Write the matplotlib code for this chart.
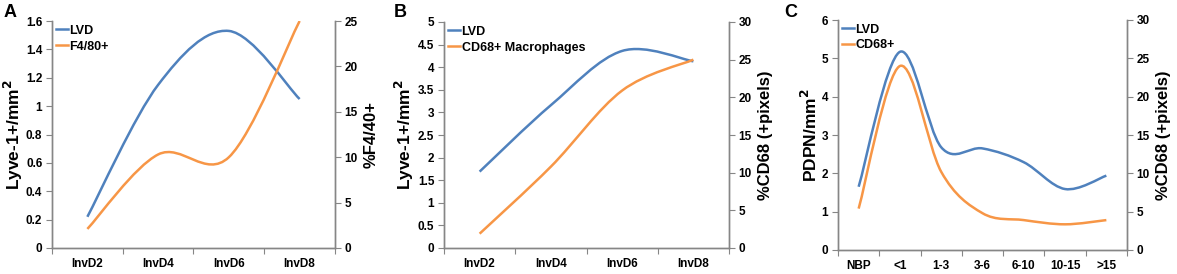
import numpy as np
import matplotlib
matplotlib.use("Agg")
from matplotlib import pyplot as plt
from matplotlib.path import Path
from matplotlib.patches import PathPatch
from matplotlib.lines import Line2D

plt.rcParams['font.family'] = ['Liberation Sans', 'DejaVu Sans']
plt.rcParams['font.weight'] = 'bold'

# panel A
cats_a = ["InvD2", "InvD4", "InvD6", "InvD8"]
lvd_a = [0.22, 1.15, 1.53, 1.05]
f480_a = [2.1, 10.3, 10.0, 25.0]

# panel B
cats_b = ["InvD2", "InvD4", "InvD6", "InvD8"]
lvd_b = [1.69, 3.16, 4.36, 4.13]
cd68_b = [1.9, 10.8, 20.9, 25.0]

# panel C
cats_c = ["NBP", "<1", "1-3", "3-6", "6-10", "10-15", ">15"]
lvd_c = [1.65, 5.17, 2.68, 2.65, 2.29, 1.59, 1.94]
cd68_c = [5.4, 24.0, 10.2, 4.8, 3.9, 3.35, 3.9]

BLUE = "#4f81bd"
ORANGE = "#f79646"
GREY = "#868686"


def smooth_path(xs, ys):
    # Excel-like smoothed line: cubic bezier segments with catmull-rom tangents
    pts = np.column_stack([xs, ys]).astype(float)
    n = len(pts)
    verts = [pts[0]]
    codes = [Path.MOVETO]
    for i in range(n - 1):
        p0 = pts[i - 1] if i > 0 else pts[i]
        p1 = pts[i]
        p2 = pts[i + 1]
        p3 = pts[i + 2] if i + 2 < n else pts[i + 1]
        verts += [p1 + (p2 - p0) / 6, p2 - (p3 - p1) / 6, p2]
        codes += [Path.CURVE4] * 3
    return Path(verts, codes)


def panel(rect, cats, left, right, lmax, lstep, rmax, rstep, llab, rlab,
          names, letter, letter_x):
    ax = fig.add_axes(rect)
    ax2 = ax.twinx()
    n = len(cats)
    xs = np.arange(n) + 0.5
    ax.set_xlim(0, n)
    ax.set_ylim(0, lmax)
    ax2.set_ylim(0, rmax)
    ax.add_patch(PathPatch(smooth_path(xs, left), facecolor="none",
                           edgecolor=BLUE, lw=1.8, capstyle="butt"))
    ax2.add_patch(PathPatch(smooth_path(xs, right), facecolor="none",
                            edgecolor=ORANGE, lw=1.8, capstyle="butt"))
    ax.set_yticks(np.arange(0, lmax + lstep / 2, lstep))
    ax.set_yticklabels(["%g" % round(v, 2) for v in np.arange(0, lmax + lstep / 2, lstep)])
    ax2.set_yticks(np.arange(0, rmax + rstep / 2, rstep))
    ax.set_xticks(np.arange(n + 1))
    ax.set_xticklabels([])
    ax.set_xticks(xs, minor=True)
    ax.set_xticklabels(cats, minor=True)
    ax.tick_params(axis="x", which="major", length=4, color=GREY, direction="out")
    ax.tick_params(axis="x", which="minor", length=0, pad=7, labelsize=8.5)
    ax.tick_params(axis="y", length=4, color=GREY, labelsize=8.5, pad=3)
    ax2.tick_params(axis="y", length=4, color=GREY, labelsize=8.5, pad=3)
    for a in (ax, ax2):
        a.spines["top"].set_visible(False)
        for s in ("left", "right", "bottom"):
            a.spines[s].set_color(GREY)
            a.spines[s].set_linewidth(1.0)
    ax.set_ylabel(llab, fontsize=12.5, fontweight="bold", labelpad=1)
    ax2.set_ylabel(rlab, fontsize=12, fontweight="bold", labelpad=4)
    handles = [Line2D([], [], color=BLUE, lw=1.8), Line2D([], [], color=ORANGE, lw=1.8)]
    ax.legend(handles, names, loc="upper left", frameon=False, fontsize=9,
              handlelength=1.0, handletextpad=0.1, labelspacing=0.3,
              borderaxespad=0.2, borderpad=0.1)
    fig.text(letter_x, 0.985, letter, fontsize=13, fontweight="bold", va="top")
    return ax


fig = plt.figure(figsize=(11.77, 2.74), dpi=100)

panel([52 / 1177, 26 / 274, 283 / 1177, 227 / 274], cats_a, lvd_a, f480_a,
      1.6, 0.2, 25, 5, "Lyve-1+/mm$^{\\mathbf{2}}$", "%F4/40+",
      ["LVD", "F4/80+"], "A", 4 / 1177)
panel([444 / 1177, 26 / 274, 285 / 1177, 226 / 274], cats_b, lvd_b, cd68_b,
      5, 0.5, 30, 5, "Lyve-1+/mm$^{\\mathbf{2}}$", "%CD68 (+pixels)",
      ["LVD", "CD68+ Macrophages"], "B", 394 / 1177)
panel([838 / 1177, 24 / 274, 289 / 1177, 230 / 274], cats_c, lvd_c, cd68_c,
      6, 1, 30, 5, "PDPN/mm$^{\\mathbf{2}}$", "%CD68 (+pixels)",
      ["LVD", "CD68+"], "C", 784 / 1177)

fig.savefig("out.png", dpi=100)
